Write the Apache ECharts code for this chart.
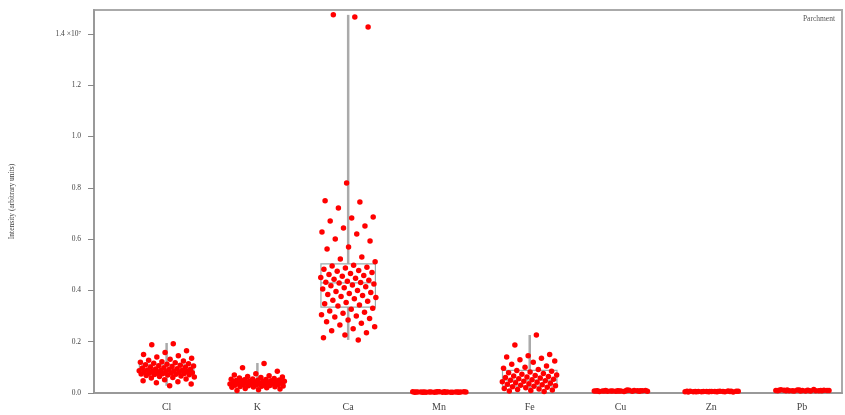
<!DOCTYPE html>
<html><head><meta charset="utf-8">
<script src="https://cdn.jsdelivr.net/npm/echarts@6/dist/echarts.min.js"></script>
<style>html,body{margin:0;padding:0;background:#fff}#c{width:845px;height:415px}</style>
</head><body><div id="c"></div>
<script>
const categories = ['Cl','K','Ca','Mn','Fe','Cu','Zn','Pb'];
const yTicks = [0, 0.2, 0.4, 0.6, 0.8, 1.0, 1.2, 1.4];
const yTickLabels = ['0.0','0.2','0.4','0.6','0.8','1.0','1.2','1.4 ×10⁷'];
const panelLabel = 'Parchment';
const yTitle = 'Intensity (arbitrary units)';
// box stats per category: [min, q1, median, q3, max] (×10^7)
const boxCl = [0.028, 0.075, 0.090, 0.112, 0.195];
const boxK  = [0.010, 0.030, 0.040, 0.052, 0.117];
const boxCa = [0.207, 0.335, 0.429, 0.503, 1.474];
const boxMn = [0.002, 0.003, 0.004, 0.005, 0.006];
const boxFe = [0.006, 0.027, 0.050, 0.088, 0.226];
const boxCu = [0.005, 0.007, 0.008, 0.010, 0.012];
const boxZn = [0.003, 0.005, 0.006, 0.007, 0.008];
const boxPb = [0.005, 0.008, 0.009, 0.011, 0.014];
// individual measurements (×10^7)
const valCl = [0.192,0.188,0.165,0.158,0.150,0.145,0.140,0.135,0.132,0.128,0.125,0.122,0.120,0.118,0.116,0.114,0.112,0.110,0.108,0.106,0.105,0.103,0.101,0.100,0.098,0.097,0.095,0.094,0.093,0.092,0.090,0.089,0.088,0.087,0.086,0.085,0.084,0.083,0.082,0.081,0.080,0.079,0.078,0.077,0.076,0.075,0.074,0.073,0.072,0.071,0.070,0.068,0.066,0.064,0.062,0.060,0.058,0.055,0.052,0.048,0.044,0.040,0.035,0.028];
const valK = [0.115,0.098,0.085,0.075,0.070,0.067,0.064,0.062,0.060,0.058,0.057,0.055,0.054,0.053,0.052,0.051,0.050,0.049,0.048,0.047,0.046,0.045,0.044,0.043,0.042,0.041,0.040,0.040,0.039,0.038,0.037,0.036,0.035,0.035,0.034,0.033,0.032,0.031,0.030,0.029,0.028,0.027,0.026,0.025,0.024,0.023,0.022,0.020,0.018,0.016,0.013,0.010];
const valCa = [1.466,1.474,1.427,0.819,0.749,0.745,0.721,0.686,0.682,0.670,0.651,0.643,0.628,0.620,0.600,0.593,0.569,0.561,0.530,0.522,0.512,0.498,0.495,0.490,0.487,0.482,0.478,0.475,0.470,0.466,0.462,0.458,0.455,0.450,0.447,0.443,0.440,0.436,0.432,0.431,0.429,0.425,0.421,0.418,0.414,0.410,0.405,0.400,0.396,0.392,0.388,0.384,0.380,0.376,0.372,0.367,0.362,0.358,0.353,0.348,0.343,0.339,0.330,0.326,0.320,0.315,0.311,0.305,0.300,0.296,0.290,0.285,0.278,0.272,0.265,0.258,0.250,0.243,0.235,0.226,0.215,0.207];
const valMn = [0.003,0.004,0.003,0.005,0.004,0.003,0.004,0.005,0.003,0.004,0.004,0.003,0.005,0.004,0.003,0.004,0.005,0.004,0.003,0.004,0.004,0.005,0.003,0.004,0.004,0.003];
const valFe = [0.226,0.187,0.150,0.145,0.140,0.135,0.130,0.125,0.120,0.112,0.105,0.100,0.096,0.092,0.088,0.085,0.082,0.079,0.076,0.073,0.070,0.068,0.066,0.064,0.062,0.060,0.058,0.056,0.054,0.052,0.050,0.048,0.046,0.044,0.042,0.040,0.038,0.036,0.034,0.032,0.030,0.028,0.026,0.024,0.022,0.020,0.018,0.016,0.014,0.012,0.010,0.008,0.006];
const valCu = [0.012,0.010,0.009,0.008,0.009,0.007,0.008,0.010,0.006,0.008,0.009,0.007,0.008,0.011,0.007,0.009,0.008,0.006,0.010,0.008,0.007,0.009,0.008,0.007,0.009,0.008];
const valZn = [0.006,0.005,0.007,0.006,0.004,0.006,0.005,0.007,0.006,0.005,0.008,0.006,0.005,0.007,0.006,0.004,0.006,0.007,0.005,0.006,0.007,0.005,0.006,0.006,0.005,0.007];
const valPb = [0.010,0.012,0.009,0.008,0.011,0.014,0.009,0.010,0.008,0.011,0.009,0.012,0.010,0.008,0.009,0.011,0.010,0.013,0.009,0.008,0.010,0.011,0.009,0.010,0.012,0.009];

const boxes = [boxCl, boxK, boxCa, boxMn, boxFe, boxCu, boxZn, boxPb];
const vals = [valCl, valK, valCa, valMn, valFe, valCu, valZn, valPb];

const JIT = 0.31, BOXW = 0.6;
const boxData = boxes.map((b, i) => [i + 1].concat(b));
const pts = [];
vals.forEach((arr, i) => {
  arr.forEach((v, j) => {
    const f = ((j + 1) * 0.6180339887) % 1;
    pts.push([i + 1 + (f - 0.5) * 2 * JIT, v]);
  });
});

const FONT = 'Liberation Serif';
const chart = echarts.init(document.getElementById('c'), null, {renderer: 'canvas'});
chart.setOption({
  animation: false,
  grid: {left: 92, right: 3, top: 10, bottom: 22, show: true, borderColor: '#aaa', borderWidth: 2},
  xAxis: {
    type: 'value', min: 0.2, max: 8.44,
    splitLine: {show: false},
    axisLine: {show: true, lineStyle: {color: '#999', width: 2}},
    axisTick: {show: false},
    axisLabel: {
      customValues: [1,2,3,4,5,6,7,8],
      formatter: v => categories[Math.round(v) - 1] || '',
      fontFamily: FONT, fontSize: 10, color: '#444', margin: 9
    }
  },
  yAxis: {
    type: 'value', min: 0, max: 1.493,
    splitLine: {show: false},
    axisLine: {show: true, lineStyle: {color: '#999', width: 2}},
    axisTick: {show: true, length: 6, lineStyle: {color: '#888'}, customValues: yTicks},
    axisLabel: {
      customValues: yTicks,
      formatter: v => { const k = yTicks.findIndex(t => Math.abs(t - v) < 1e-6); return k >= 0 ? yTickLabels[k] : ''; },
      fontFamily: FONT, fontSize: 7.5, color: '#444', margin: 13
    },
    name: yTitle, nameLocation: 'middle', nameRotate: 90, nameGap: 78,
    nameTextStyle: {fontFamily: FONT, fontSize: 7.5, color: '#444'}
  },
  graphic: [{
    type: 'text', right: 10, top: 15,
    style: {text: panelLabel, font: '7.5px "Liberation Serif"', fill: '#555'}
  }],
  series: [{
    type: 'custom', z: 1,
    data: boxData,
    renderItem: (params, api) => {
      const x = api.value(0);
      const pMin = api.coord([x, api.value(1)]);
      const pQ1 = api.coord([x, api.value(2)]);
      const pMed = api.coord([x, api.value(3)]);
      const pQ3 = api.coord([x, api.value(4)]);
      const pMax = api.coord([x, api.value(5)]);
      const hw = api.size([BOXW, 0])[0] / 2;
      const wl = {stroke: '#aaa', lineWidth: 2.5};
      const bl = {stroke: '#9aa', lineWidth: 1.2, fill: 'none'};
      return {type: 'group', children: [
        {type: 'line', shape: {x1: pMax[0], y1: pMax[1], x2: pQ3[0], y2: pQ3[1]}, style: wl},
        {type: 'line', shape: {x1: pQ1[0], y1: pQ1[1], x2: pMin[0], y2: pMin[1]}, style: wl},
        {type: 'rect', shape: {x: pQ3[0] - hw, y: pQ3[1], width: 2 * hw, height: pQ1[1] - pQ3[1]}, style: bl},
        {type: 'line', shape: {x1: pMed[0] - hw, y1: pMed[1], x2: pMed[0] + hw, y2: pMed[1]}, style: {stroke: '#9aa', lineWidth: 1.2}}
      ]};
    }
  }, {
    type: 'scatter', z: 2,
    data: pts,
    symbol: 'circle', symbolSize: 5.5,
    itemStyle: {color: '#ff0000', opacity: 1}
  }]
});
</script></body></html>
